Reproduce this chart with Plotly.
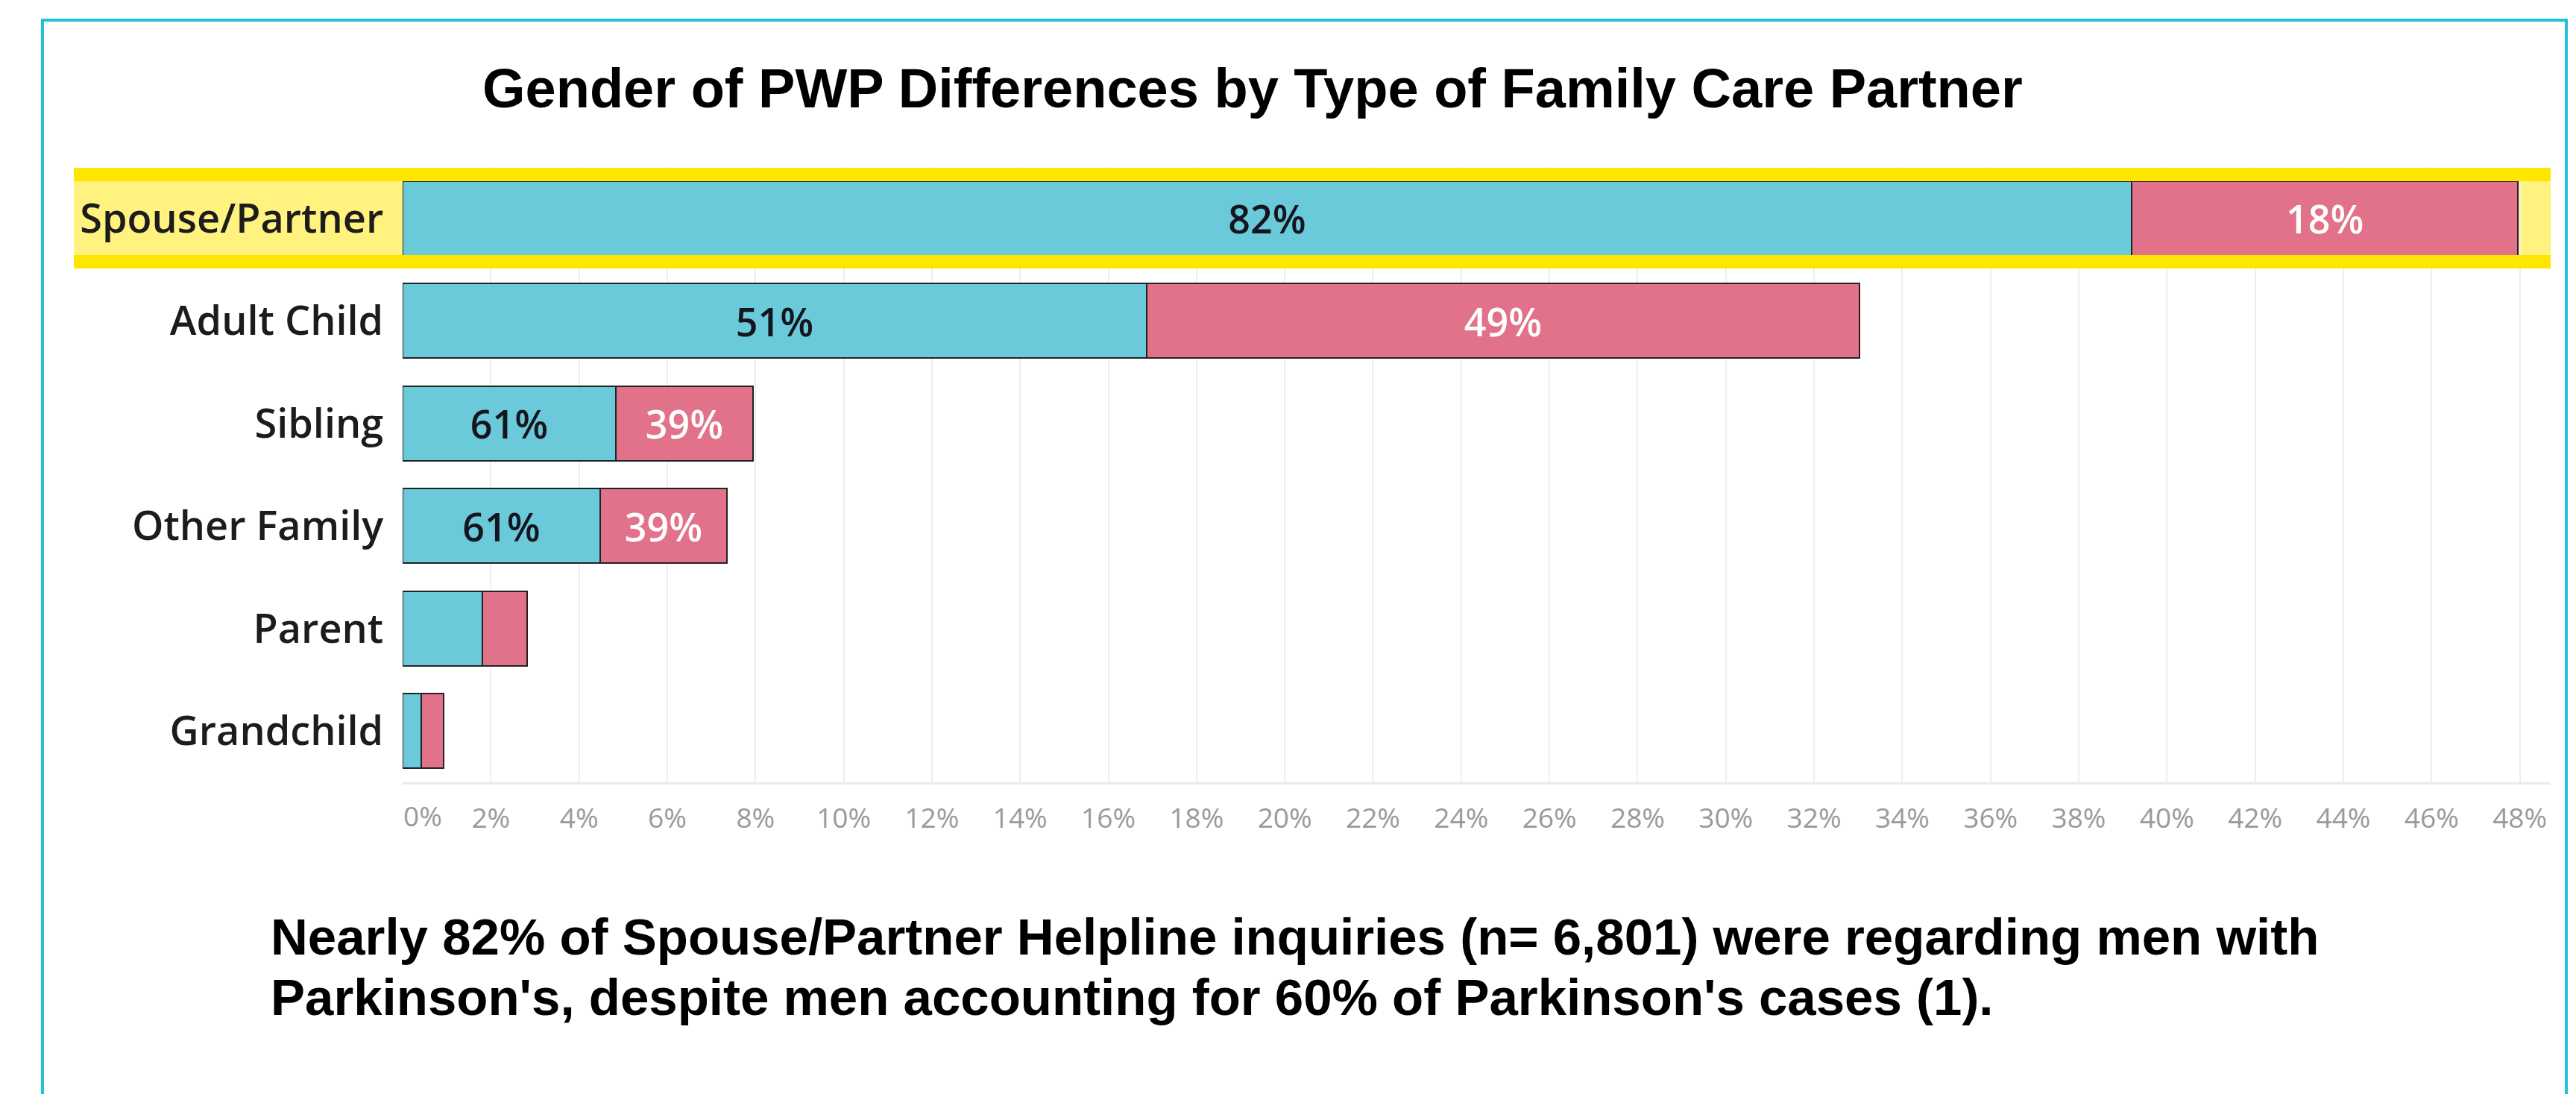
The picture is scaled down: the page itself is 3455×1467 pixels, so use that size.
import plotly.graph_objects as go

# ---- data ----
categories = ["Spouse/Partner", "Adult Child", "Sibling", "Other Family", "Parent", "Grandchild"]
male_pct = [39.20, 16.87, 4.83, 4.48, 1.81, 0.42]      # % of all inquiries, male PWP
female_pct = [8.76, 16.16, 3.12, 2.87, 1.01, 0.51]     # % of all inquiries, female PWP
male_labels = ["82%", "51%", "61%", "61%", "", ""]
female_labels = ["18%", "49%", "39%", "39%", "", ""]
tick_vals = [0, 2, 4, 6, 8, 10, 12, 14, 16, 18, 20, 22, 24, 26, 28, 30, 32, 34, 36, 38, 40, 42, 44, 46, 48]
tick_text = ["0%", "2%", "4%", "6%", "8%", "10%", "12%", "14%", "16%", "18%", "20%", "22%", "24%",
             "26%", "28%", "30%", "32%", "34%", "36%", "38%", "40%", "42%", "44%", "46%", "48%"]

title_text = "Gender of PWP Differences by Type of Family Care Partner"
note_line1 = "Nearly 82% of Spouse/Partner Helpline inquiries (n= 6,801) were regarding men with"
note_line2 = "Parkinson's, despite men accounting for 60% of Parkinson's cases (1)."

# ---- layout geometry (pixels) ----
W, H = 3455, 1467
L, R, T, B = 540, 34, 224, 418
PW = W - L - R
PH = H - T - B


def px(x):
    return (x - L) / PW


def py(y):
    return (H - B - y) / PH


CYAN = "#6BCAD9"
PINK = "#E1728A"
OUTLINE = "#222222"
TICKFONT = dict(family="Open Sans", size=37, color="#9a9a9a")

fig = go.Figure()
fig.add_trace(go.Bar(
    y=categories, x=male_pct, orientation="h", name="Male",
    marker=dict(color=CYAN, line=dict(color=OUTLINE, width=2)),
    text=male_labels, textposition="inside", insidetextanchor="middle", textangle=0,
    textfont=dict(family="Open Sans", size=52, color="#15151f", weight=600),
    hoverinfo="skip", showlegend=False,
))
fig.add_trace(go.Bar(
    y=categories, x=female_pct, orientation="h", name="Female",
    marker=dict(color=PINK, line=dict(color=OUTLINE, width=2)),
    text=female_labels, textposition="inside", insidetextanchor="middle", textangle=0,
    textfont=dict(family="Open Sans", size=52, color="#ffffff", weight=600),
    hoverinfo="skip", showlegend=False,
))

shapes = [
    # light yellow highlight of the selected row
    dict(type="rect", xref="paper", yref="paper", x0=px(99), x1=px(3421), y0=py(360), y1=py(225),
         fillcolor="#FFF27E", line=dict(width=0), layer="between"),
    # bright yellow top / bottom bands
    dict(type="rect", xref="paper", yref="paper", x0=px(99), x1=px(3421), y0=py(243), y1=py(225),
         fillcolor="#FFE600", line=dict(width=0), layer="above"),
    dict(type="rect", xref="paper", yref="paper", x0=px(99), x1=px(3421), y0=py(360), y1=py(342),
         fillcolor="#FFE600", line=dict(width=0), layer="above"),
    # outer cyan frame (bottom edge lies below the visible page)
    dict(type="rect", xref="paper", yref="paper", x0=px(57), x1=px(3442), y0=py(1480), y1=py(27),
         fillcolor="rgba(0,0,0,0)", line=dict(color="#1EC3DA", width=4), layer="above"),
]

annotations = [
    dict(text=f"<b>{title_text}</b>", xref="paper", yref="paper", x=px(1680), y=py(118),
         xanchor="center", yanchor="middle", showarrow=False,
         font=dict(family="Liberation Sans, Arial", size=74, color="#000000")),
    dict(text=f"<b>{note_line1}</b>", xref="paper", yref="paper", x=px(361), y=py(1256),
         xanchor="left", yanchor="middle", showarrow=False,
         font=dict(family="Liberation Sans, Arial", size=69, color="#000000")),
    dict(text=f"<b>{note_line2}</b>", xref="paper", yref="paper", x=px(361), y=py(1337),
         xanchor="left", yanchor="middle", showarrow=False,
         font=dict(family="Liberation Sans, Arial", size=69, color="#000000")),
    # first tick label is nudged right (as in the reference), kept on the axis scale
    dict(text=tick_text[0], xref="x", yref="paper", x=tick_vals[0], y=py(1049),
         xanchor="center", yanchor="top", xshift=27, yshift=-17, showarrow=False,
         font=TICKFONT),
]

fig.update_layout(
    width=W, height=H,
    margin=dict(l=L, r=R, t=T, b=B, pad=0),
    paper_bgcolor="white", plot_bgcolor="white",
    barmode="stack", bargap=0.27,
    shapes=shapes, annotations=annotations,
    xaxis=dict(
        range=[0, 48.7], tickvals=tick_vals, ticktext=[""] + tick_text[1:],
        tickfont=TICKFONT,
        showgrid=True, gridcolor="#EEEEEE", gridwidth=2,
        zeroline=False, showline=True, linecolor="#EAEAEA", linewidth=3,
        ticks="outside", ticklen=14, tickcolor="rgba(0,0,0,0)",
        fixedrange=True,
    ),
    yaxis=dict(
        categoryorder="array", categoryarray=categories, range=[5.5, -0.5],
        tickfont=dict(family="Open Sans", size=54, color="#1c1c1c", weight=600),
        showgrid=False, zeroline=False, showline=False,
        ticks="outside", ticklen=14, tickcolor="rgba(0,0,0,0)",
        fixedrange=True,
    ),
    uniformtext=dict(minsize=10, mode="show"),
)

fig.write_html("out.html")
